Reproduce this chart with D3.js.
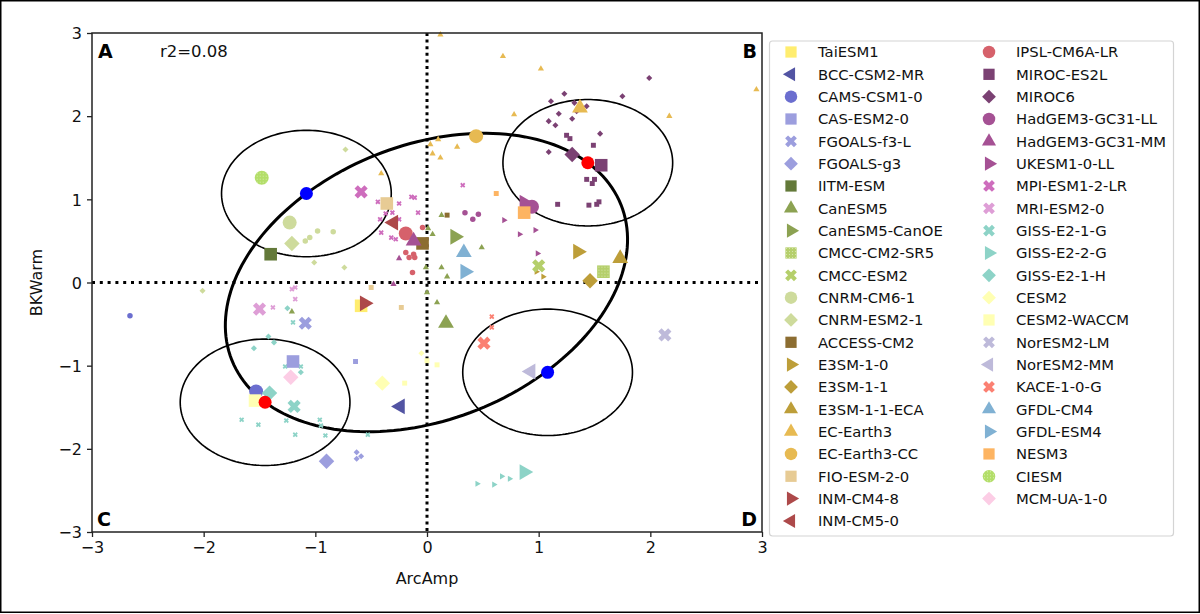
<!DOCTYPE html>
<html>
<head>
<meta charset="utf-8">
<script src="https://cdn.jsdelivr.net/npm/d3@7"></script>
<style>
  html, body { margin: 0; padding: 0; background: #fff; }
  svg { display: block; font-family: "DejaVu Sans", sans-serif; }
</style>
</head>
<body>
<svg id="chart" width="1200" height="614"></svg>
<script>
/* ArcAmp vs BKWarm scatter of CMIP6 models, D3 v7 */

// model names, marker shape and colour (legend order)
const models = ["TaiESM1", "BCC-CSM2-MR", "CAMS-CSM1-0", "CAS-ESM2-0", "FGOALS-f3-L", "FGOALS-g3",
  "IITM-ESM", "CanESM5", "CanESM5-CanOE", "CMCC-CM2-SR5", "CMCC-ESM2", "CNRM-CM6-1", "CNRM-ESM2-1",
  "ACCESS-CM2", "E3SM-1-0", "E3SM-1-1", "E3SM-1-1-ECA", "EC-Earth3", "EC-Earth3-CC", "FIO-ESM-2-0",
  "INM-CM4-8", "INM-CM5-0", "IPSL-CM6A-LR", "MIROC-ES2L", "MIROC6", "HadGEM3-GC31-LL", "HadGEM3-GC31-MM",
  "UKESM1-0-LL", "MPI-ESM1-2-LR", "MRI-ESM2-0", "GISS-E2-1-G", "GISS-E2-2-G", "GISS-E2-1-H", "CESM2",
  "CESM2-WACCM", "NorESM2-LM", "NorESM2-MM", "KACE-1-0-G", "GFDL-CM4", "GFDL-ESM4", "NESM3", "CIESM",
  "MCM-UA-1-0"];
const shapes = ["s", "<", "o", "s", "X", "D", "s", "^", ">", "s", "X", "o", "D", "s", ">", "D", "^",
  "^", "o", "s", ">", "<", "o", "s", "D", "o", "^", ">", "X", "X", "X", ">", "D", "D", "s", "X", "<",
  "X", "^", ">", "s", "o", "D"];
const colors = ["#ffed6f", "#5254a3", "#6b6ecf", "#9c9ede", "#9c9ede", "#9c9ede", "#637939", "#8ca252",
  "#8ca252", "#b5cf6b", "#b5cf6b", "#cedb9c", "#cedb9c", "#8c6d31", "#bd9e39", "#bd9e39", "#bd9e39",
  "#e7ba52", "#e7ba52", "#e7cb94", "#ad494a", "#ad494a", "#d6616b", "#7b4173", "#7b4173", "#a55194",
  "#a55194", "#a55194", "#ce6dbd", "#de9ed6", "#8dd3c7", "#8dd3c7", "#8dd3c7", "#ffffb3", "#ffffb3",
  "#bebada", "#bebada", "#fb8072", "#80b1d3", "#80b1d3", "#fdb462", "#b3de69", "#fccde5"];
const hatched = ["CMCC-CM2-SR5", "CIESM"];

// ensemble-mean position of each model
const meanArc = [-0.59, -0.24, -1.53, -1.20, -1.09, -0.90, -1.40, 0.17, 0.25, 1.58, 1.00, -1.23, -1.21,
  -0.04, 1.35, 1.46, 1.73, 1.37, 0.44, -0.36, -0.56, -0.30, -0.19, 1.56, 1.30, 0.94, -0.12, 0.87, -0.59,
  -1.50, -1.19, 0.87, -1.41, -0.40, -1.54, 2.13, 0.93, 0.51, 0.33, 0.34, 0.87, -1.48, -1.22];
const meanBK = [-0.28, -1.49, -1.31, -0.95, -0.49, -2.15, 0.34, -0.49, 0.55, 0.13, 0.20, 0.72, 0.47,
  0.47, 0.37, 0.02, 0.29, 2.10, 1.76, 0.95, -0.25, 0.72, 0.59, 1.41, 1.54, 0.91, 0.50, 0.96, 1.09,
  -0.32, -1.49, -2.28, -1.33, -1.21, -1.42, -0.63, -1.07, -0.73, 0.36, 0.13, 0.84, 1.26, -1.14];

// individual members [model, ArcAmp, BKWarm]
const members = [
  ["MIROC6", 1.23, 2.27], ["MIROC6", 1.11, 2.18], ["MIROC6", 1.32, 2.16], ["MIROC6", 1.43, 2.12],
  ["MIROC6", 1.34, 2.06], ["MIROC6", 1.18, 2.03], ["MIROC6", 1.30, 1.97], ["MIROC6", 1.09, 1.94],
  ["MIROC6", 1.15, 1.89], ["MIROC6", 1.55, 1.79], ["MIROC6", 1.75, 2.24], ["MIROC6", 1.99, 2.46],
  ["MIROC6", 1.09, 1.57],
  ["MIROC-ES2L", 1.25, 1.77], ["MIROC-ES2L", 1.28, 1.73], ["MIROC-ES2L", 1.49, 1.65],
  ["MIROC-ES2L", 1.43, 1.24], ["MIROC-ES2L", 1.48, 1.19], ["MIROC-ES2L", 1.50, 1.24],
  ["MIROC-ES2L", 1.17, 0.94], ["MIROC-ES2L", 1.45, 0.93], ["MIROC-ES2L", 1.52, 0.94],
  ["MIROC-ES2L", 1.54, 0.97],
  ["EC-Earth3", 0.12, 2.98], ["EC-Earth3", 0.68, 2.72], ["EC-Earth3", 1.02, 2.57], ["EC-Earth3", 0.78, 2.02],
  ["EC-Earth3", 2.17, 2.00], ["EC-Earth3", 2.95, 2.32], ["EC-Earth3", 0.10, 1.72], ["EC-Earth3", 0.27, 1.63],
  ["EC-Earth3", 0.05, 1.55], ["EC-Earth3", 0.12, 1.50], ["EC-Earth3", 0.03, 1.66], ["EC-Earth3", -0.41, 1.31],
  ["HadGEM3-GC31-LL", 0.34, 0.84], ["HadGEM3-GC31-LL", 0.46, 0.82], ["HadGEM3-GC31-LL", 0.41, 0.76],
  ["UKESM1-0-LL", 0.69, 0.75], ["UKESM1-0-LL", 0.83, 0.58], ["UKESM1-0-LL", 0.97, 0.63],
  ["UKESM1-0-LL", 0.99, 0.35],
  ["NESM3", 0.62, 1.07],
  ["MPI-ESM1-2-LR", 0.32, 1.17], ["MPI-ESM1-2-LR", -0.44, 0.97], ["MPI-ESM1-2-LR", -0.25, 0.95],
  ["MPI-ESM1-2-LR", -0.14, 1.03], ["MPI-ESM1-2-LR", -0.11, 1.02], ["MPI-ESM1-2-LR", -0.37, 0.83],
  ["MPI-ESM1-2-LR", -0.31, 0.84], ["MPI-ESM1-2-LR", -0.08, 0.84], ["MPI-ESM1-2-LR", -0.42, 0.76],
  ["MPI-ESM1-2-LR", -0.25, 0.76], ["MPI-ESM1-2-LR", -0.41, 0.60], ["MPI-ESM1-2-LR", -0.32, 0.54],
  ["MPI-ESM1-2-LR", -0.28, 0.52],
  ["ACCESS-CM2", 0.18, 0.81],
  ["CanESM5", 0.13, 0.81], ["CanESM5", 0.05, 0.58], ["CanESM5", 0.01, 0.65], ["CanESM5", 0.49, 0.42],
  ["CanESM5", 0.13, 0.18], ["CanESM5", 0.18, 0.07], ["CanESM5", -0.01, 0.18], ["CanESM5", 0.09, -0.24],
  ["CanESM5", 0.00, -0.12], ["CanESM5", -1.21, -0.35],
  ["E3SM-1-0", 0.98, 0.13], ["E3SM-1-0", 1.04, 0.07],
  ["HadGEM3-GC31-MM", -0.25, 0.29], ["HadGEM3-GC31-MM", -0.30, -0.02],
  ["FIO-ESM-2-0", -0.50, -0.06], ["FIO-ESM-2-0", -0.23, -0.30],
  ["KACE-1-0-G", 0.58, -0.41], ["KACE-1-0-G", 0.58, -0.54],
  ["CNRM-ESM2-1", -0.73, 1.60], ["CNRM-ESM2-1", -0.74, 0.18], ["CNRM-ESM2-1", -2.01, -0.10],
  ["CNRM-ESM2-1", -1.01, 0.24],
  ["CNRM-CM6-1", -1.09, 0.50], ["CNRM-CM6-1", -1.05, 0.54], ["CNRM-CM6-1", -0.98, 0.62],
  ["CNRM-CM6-1", -0.84, 0.61],
  ["IPSL-CM6A-LR", -0.04, 0.66], ["IPSL-CM6A-LR", -0.19, 0.36], ["IPSL-CM6A-LR", -0.16, 0.30],
  ["IPSL-CM6A-LR", -0.12, 0.34], ["IPSL-CM6A-LR", -0.11, 0.30], ["IPSL-CM6A-LR", -0.13, 0.12],
  ["CAMS-CSM1-0", -2.66, -0.40],
  ["MRI-ESM2-0", -1.21, -0.08], ["MRI-ESM2-0", -1.18, -0.06], ["MRI-ESM2-0", -1.18, -0.20],
  ["MRI-ESM2-0", -1.38, -0.30],
  ["GISS-E2-1-G", -1.20, -0.48], ["GISS-E2-1-G", -1.27, -1.01], ["GISS-E2-1-G", -1.19, -0.93],
  ["GISS-E2-1-G", -1.13, -1.01], ["GISS-E2-1-G", -1.66, -1.65], ["GISS-E2-1-G", -1.51, -1.71],
  ["GISS-E2-1-G", -1.26, -1.66], ["GISS-E2-1-G", -1.18, -1.83], ["GISS-E2-1-G", -0.96, -1.65],
  ["GISS-E2-1-G", -0.95, -1.72], ["GISS-E2-1-G", -0.91, -1.84], ["GISS-E2-1-G", -0.53, -1.83],
  ["GISS-E2-1-H", -1.25, -0.31], ["GISS-E2-1-H", -1.42, -0.65], ["GISS-E2-1-H", -1.37, -0.72],
  ["GISS-E2-1-H", -1.55, -0.79], ["GISS-E2-1-H", -1.13, -1.08],
  ["FGOALS-g3", -0.63, -2.04], ["FGOALS-g3", -0.59, -2.09], ["FGOALS-g3", -0.63, -2.12],
  ["CAS-ESM2-0", -0.64, -0.95],
  ["CESM2", -0.05, -0.85],
  ["CESM2-WACCM", -0.20, -1.21], ["CESM2-WACCM", 0.09, -0.99], ["CESM2-WACCM", 0.00, -0.94],
  ["GISS-E2-2-G", 0.45, -2.42], ["GISS-E2-2-G", 0.60, -2.43], ["GISS-E2-2-G", 0.67, -2.33],
  ["GISS-E2-2-G", 0.74, -2.36]
];

// ellipse anchors: red = major axis ends, blue = minor axis ends
const redPts = [[1.44, 1.44], [-1.45, -1.44]];
const bluePts = [[-1.08, 1.07], [1.08, -1.08]];
const circleRadius = 0.76;

const ticks = [-3, -2, -1, 0, 1, 2, 3];
const quadLabels = ["A", "B", "C", "D"];
const r2Text = "r2=0.08";

const svg = d3.select("#chart");
const margin = { left: 92, top: 33, right: 762, bottom: 532 };

const x = d3.scaleLinear().domain([-3, 3]).range([margin.left, margin.right]);
const y = d3.scaleLinear().domain([-3, 3]).range([margin.bottom, margin.top]);

// figure frame
svg.append("rect")
  .attr("x", 0.75).attr("y", 0.75).attr("width", 1198.5).attr("height", 611.5)
  .attr("fill", "none").attr("stroke", "#000").attr("stroke-width", 1.5);

// hatch pattern for dotted markers
const defs = svg.append("defs");
hatched.forEach((name, i) => {
  const c = colors[models.indexOf(name)];
  const p = defs.append("pattern").attr("id", "hatch" + i)
    .attr("patternUnits", "userSpaceOnUse").attr("width", 3).attr("height", 3);
  p.append("rect").attr("width", 3).attr("height", 3).attr("fill", c);
  p.append("circle").attr("cx", 1.5).attr("cy", 1.5).attr("r", 0.5).attr("fill", "rgba(255,255,255,0.6)");
});
function fillOf(name) {
  const h = hatched.indexOf(name);
  return h >= 0 ? `url(#hatch${h})` : colors[models.indexOf(name)];
}

// marker path by matplotlib-like shape code, size = rough width in px
function markerPath(shape, size) {
  switch (shape) {
    case "o": return d3.symbol(d3.symbolCircle, Math.PI * (size / 2) ** 2)();
    case "s": return d3.symbol(d3.symbolSquare, (size * 0.9) ** 2)();
    case "D": return d3.symbol(d3.symbolSquare, (size * 0.78) ** 2)();
    case "X": return d3.symbol(d3.symbolCross, (size * 1.0) ** 2 * 5 / 9)();
    default: return d3.symbol(d3.symbolTriangle, size * size * 0.55)();
  }
}
function markerRot(shape) {
  return { "D": 45, "X": 45, ">": 90, "<": -90 }[shape] || 0;
}

// zero lines
svg.append("line")
  .attr("x1", x(0)).attr("x2", x(0)).attr("y1", y(3)).attr("y2", y(-3))
  .attr("stroke", "#000").attr("stroke-width", 3).attr("stroke-dasharray", "3,3.6");
svg.append("line")
  .attr("x1", x(-3)).attr("x2", x(3)).attr("y1", y(0)).attr("y2", y(0))
  .attr("stroke", "#000").attr("stroke-width", 3).attr("stroke-dasharray", "3,4.8");

// ellipses
const ts = d3.range(0, 361, 2).map(d => d * Math.PI / 180);
const line = d3.line().x(d => x(d[0])).y(d => y(d[1]));
const cx0 = (redPts[0][0] + redPts[1][0]) / 2, cy0 = (redPts[0][1] + redPts[1][1]) / 2;
const a = [redPts[0][0] - cx0, redPts[0][1] - cy0];
const b = [bluePts[0][0] - cx0, bluePts[0][1] - cy0];

const plot = svg.append("g");
plot.append("path")
  .attr("d", line(ts.map(t => [cx0 + a[0] * Math.cos(t) + b[0] * Math.sin(t),
                               cy0 + a[1] * Math.cos(t) + b[1] * Math.sin(t)])))
  .attr("fill", "none").attr("stroke", "#000").attr("stroke-width", 3);

plot.selectAll("path.ring")
  .data(redPts.concat(bluePts))
  .join("path")
  .attr("class", "ring")
  .attr("d", c => line(ts.map(t => [c[0] + circleRadius * Math.cos(t), c[1] + circleRadius * Math.sin(t)])))
  .attr("fill", "none").attr("stroke", "#000").attr("stroke-width", 1.6);

// member markers
plot.append("g")
  .selectAll("path")
  .data(members)
  .join("path")
  .attr("d", d => markerPath(shapes[models.indexOf(d[0])], 5.5))
  .attr("transform", d => `translate(${x(d[1])},${y(d[2])}) rotate(${markerRot(shapes[models.indexOf(d[0])])})`)
  .attr("fill", d => colors[models.indexOf(d[0])]);

// ensemble means
plot.append("g")
  .selectAll("path")
  .data(models)
  .join("path")
  .attr("d", (d, i) => markerPath(shapes[i], 14))
  .attr("transform", (d, i) => `translate(${x(meanArc[i])},${y(meanBK[i])}) rotate(${markerRot(shapes[i])})`)
  .attr("fill", d => fillOf(d));

// red and blue anchor points
plot.selectAll("circle.anchor")
  .data(redPts.map(p => [p, "#ff0000"]).concat(bluePts.map(p => [p, "#0000ff"])))
  .join("circle")
  .attr("class", "anchor")
  .attr("cx", d => x(d[0][0])).attr("cy", d => y(d[0][1])).attr("r", 6.5)
  .attr("fill", d => d[1]);

// spines
svg.append("rect")
  .attr("x", margin.left).attr("y", margin.top)
  .attr("width", margin.right - margin.left).attr("height", margin.bottom - margin.top)
  .attr("fill", "none").attr("stroke", "#222").attr("stroke-width", 1.5);

// axes
const xAxis = svg.append("g")
  .attr("transform", `translate(0,${margin.bottom})`)
  .call(d3.axisBottom(x).tickValues(ticks).tickSize(5).tickPadding(5).tickFormat(d3.format("d")));
const yAxis = svg.append("g")
  .attr("transform", `translate(${margin.left},0)`)
  .call(d3.axisLeft(y).tickValues(ticks).tickSize(5).tickPadding(5).tickFormat(d3.format("d")));
[xAxis, yAxis].forEach(g => {
  g.select(".domain").remove();
  g.selectAll(".tick line").attr("stroke", "#222").attr("stroke-width", 1.3);
  g.selectAll(".tick text").attr("font-size", 16).attr("fill", "#111")
    .attr("font-family", "DejaVu Sans, sans-serif");
});
yAxis.selectAll(".tick text").attr("dy", "0.36em");

svg.append("text")
  .attr("x", x(0)).attr("y", 584).attr("text-anchor", "middle")
  .attr("font-size", 16).attr("fill", "#111").text("ArcAmp");
svg.append("text")
  .attr("transform", `translate(42,${y(0)}) rotate(-90)`).attr("text-anchor", "middle")
  .attr("font-size", 16).attr("fill", "#111").text("BKWarm");

// quadrant labels and r2
const quadPos = [[98, 58, "start"], [757, 58, "end"], [97, 526, "start"], [757, 526, "end"]];
svg.selectAll("text.quad")
  .data(quadLabels)
  .join("text")
  .attr("class", "quad")
  .attr("x", (d, i) => quadPos[i][0]).attr("y", (d, i) => quadPos[i][1])
  .attr("text-anchor", (d, i) => quadPos[i][2])
  .attr("font-size", 19).attr("font-weight", "bold").attr("fill", "#000")
  .text(d => d);
svg.append("text")
  .attr("x", 160).attr("y", 57).attr("font-size", 16.5).attr("fill", "#111").text(r2Text);

// legend
const leg = svg.append("g");
leg.append("rect")
  .attr("x", 769.5).attr("y", 41).attr("width", 404).attr("height", 495).attr("rx", 3)
  .attr("fill", "#fff").attr("stroke", "#d4d4d4").attr("stroke-width", 1.2);
const perCol = 22, rowH = 22.33;
const items = leg.selectAll("g.item")
  .data(models)
  .join("g")
  .attr("class", "item")
  .attr("transform", (d, i) => `translate(${i < perCol ? 791 : 989},${52 + (i % perCol) * rowH})`);
items.append("path")
  .attr("d", (d, i) => markerPath(shapes[i], 12.5))
  .attr("transform", (d, i) => `rotate(${markerRot(shapes[i])})`)
  .attr("fill", d => fillOf(d));
items.append("text")
  .attr("x", 27).attr("dy", "0.36em")
  .attr("font-size", 14.8).attr("fill", "#111")
  .text(d => d);
</script>
</body>
</html>
